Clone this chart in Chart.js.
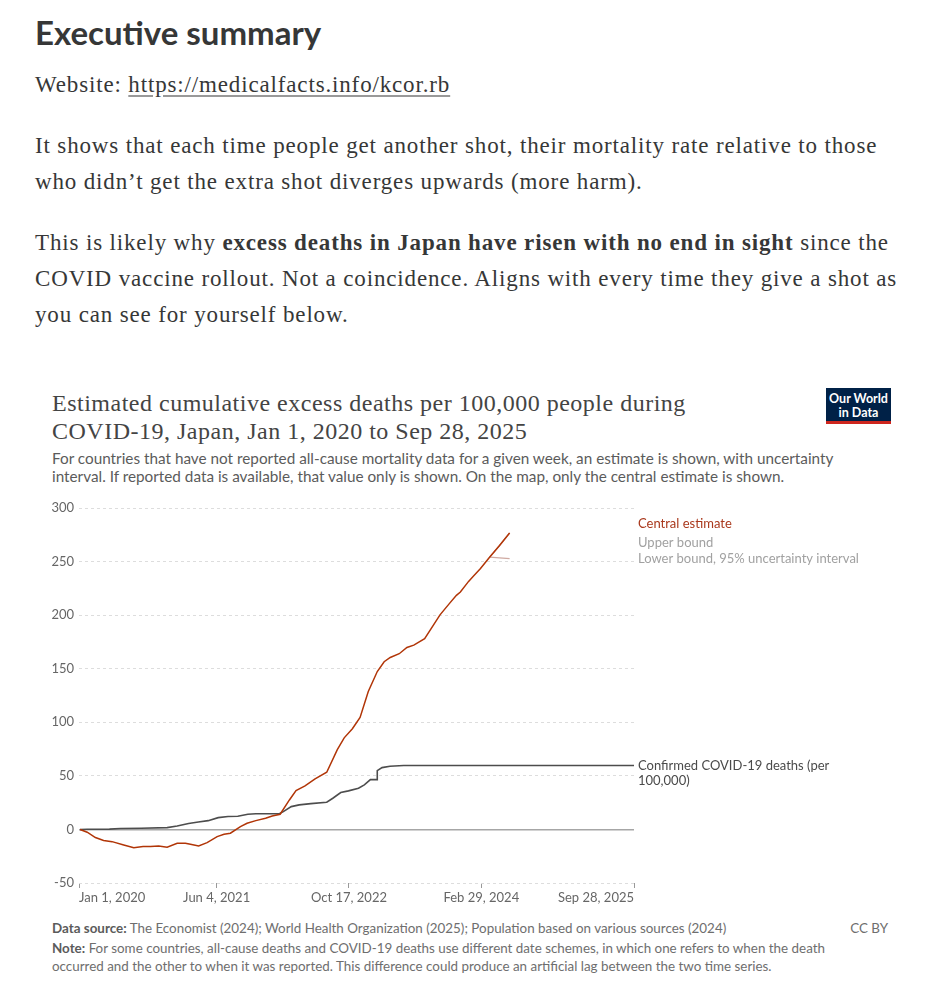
<!DOCTYPE html>
<html>
<head>
<meta charset="utf-8">
<script src="https://cdn.jsdelivr.net/npm/chart.js@4.4.1/dist/chart.umd.min.js"></script>
<style>
  html, body { margin: 0; padding: 0; background: #fff; }
  body { width: 928px; height: 1004px; position: relative; overflow: hidden; color: #363737; }
  .abs { position: absolute; }
  h1 { margin: 0; font-family: Lato, sans-serif; font-weight: 700; font-size: 33px; line-height: 40px; left: 35px; top: 12px; color: #363737; }
  .body { font-family: "Liberation Serif", serif; font-size: 23px; letter-spacing: 0.85px; line-height: 36px; left: 35px; width: 876px; margin: 0; }
  .body a { color: #363737; text-decoration: underline; text-decoration-color: #999; text-underline-offset: 3px; }
  .ctitle { font-family: "Liberation Serif", serif; font-size: 24px; letter-spacing: 0.5px; line-height: 28px; left: 52px; top: 389px; color: #444; width: 665px; }
  .csub { font-family: Lato, sans-serif; font-size: 15.3px; line-height: 18px; left: 52px; top: 449px; color: #5b5b5b; width: 800px; }
  .logo { left: 826px; top: 388px; width: 65px; background: #002147; border-bottom: 3px solid #ce261e; color: #fff; font-family: Lato, sans-serif; font-weight: 700; font-size: 12.5px; line-height: 14px; text-align: center; padding-top: 4px; height: 29px; }
  .foot { font-family: Lato, sans-serif; font-size: 13.4px; line-height: 18px; left: 52px; color: #6e6e6e; width: 800px; }
  .foot b { color: #5b5b5b; }
  #chartBox { left: 30px; top: 495px; }
</style>
</head>
<body>
<h1 class="abs">Executive summary</h1>
<p class="abs body" style="top:67px">Website: <a href="#">https://medicalfacts.info/kcor.rb</a></p>
<p class="abs body" style="top:128px">It shows that each time people get another shot, their mortality rate relative to those who didn’t get the extra shot diverges upwards (more harm).</p>
<p class="abs body" style="top:225px">This is likely why <b>excess deaths in Japan have risen with no end in sight</b> since the COVID vaccine rollout. Not a coincidence. Aligns with every time they give a shot as you can see for yourself below.</p>

<div class="abs ctitle">Estimated cumulative excess deaths per 100,000 people during COVID-19, Japan, Jan 1, 2020 to Sep 28, 2025</div>
<div class="abs csub">For countries that have not reported all-cause mortality data for a given week, an estimate is shown, with uncertainty interval. If reported data is available, that value only is shown. On the map, only the central estimate is shown.</div>
<div class="abs logo">Our World<br>in Data</div>

<div class="abs" id="chartBox"><canvas id="canvasPanel" width="870" height="417"></canvas></div>

<div class="abs foot" style="top:919px"><b>Data source:</b> The Economist (2024); World Health Organization (2025); Population based on various sources (2024)</div>
<div class="abs foot" style="top:919px; left:auto; right:40px; width:auto;">CC BY</div>
<div class="abs foot" style="top:939px"><b>Note:</b> For some countries, all-cause deaths and COVID-19 deaths use different date schemes, in which one refers to when the death occurred and the other to when it was reported. This difference could produce an artificial lag between the two time series.</div>

<script>
// x values are days since Jan 1, 2020
var tickDays = [0, 520, 1020, 1520, 2097];
var tickLabels = ['Jan 1, 2020', 'Jun 4, 2021', 'Oct 17, 2022', 'Feb 29, 2024', 'Sep 28, 2025'];

var centralDays = [4, 31, 62, 93, 125, 169, 207, 242, 270, 301, 333, 371, 402, 421, 452, 484, 522, 548, 572, 610, 635, 668, 705, 730, 760, 795, 820, 854, 892, 936, 976, 1002, 1033, 1062, 1093, 1127, 1153, 1176, 1210, 1239, 1265, 1306, 1364, 1400, 1426, 1441, 1472, 1489, 1517, 1552, 1589, 1627];
var centralValues = [0, -2.6, -7.6, -10.4, -11.4, -14.5, -17, -16, -16, -15.4, -16.6, -12.9, -12.9, -13.8, -15.4, -12.3, -6.7, -4.5, -3.5, 2.6, 5.8, 8.2, 10.4, 12.6, 14.2, 27.5, 36.3, 40.6, 47.2, 53.4, 74.5, 85.5, 94, 104.6, 128.7, 147.4, 156.5, 160.5, 164, 169.8, 172, 178, 200.3, 211, 218.5, 221.6, 231.5, 236, 243.5, 254.2, 265, 276.7];

var upperDays = [1552, 1589, 1627];
var upperValues = [254.2, 265, 276.7];
var lowerDays = [1552, 1589, 1627];
var lowerValues = [254.2, 253.5, 252.7];

var confirmedDays = [4, 31, 115, 156, 235, 333, 371, 414, 451, 488, 526, 563, 600, 638, 668, 757, 772, 802, 832, 876, 936, 959, 989, 1018, 1056, 1078, 1101, 1126, 1127, 1145, 1175, 1227, 2097];
var confirmedValues = [0, 0.1, 0.3, 0.9, 1.1, 1.7, 3.2, 5.5, 7, 8.2, 11, 12, 12.3, 14.2, 14.6, 14.6, 16.6, 21.3, 22.9, 24.1, 25.4, 29.1, 34.4, 36, 38.5, 41.6, 46.5, 46.5, 54.9, 57.7, 59, 59.6, 59.6];

function pairs(xs, ys) {
  return xs.map(function(x, i) { return {x: x, y: ys[i]}; });
}

var lineLabels = {
  id: 'lineLabels',
  afterDraw: function(chart) {
    var ctx = chart.ctx;
    var x = chart.chartArea.right + 4;
    var top = chart.chartArea.top;
    ctx.save();
    ctx.font = '13px Lato';
    ctx.textBaseline = 'middle';
    ctx.textAlign = 'left';
    ctx.fillStyle = '#a9381c';
    ctx.fillText('Central estimate', x, top + 16);
    ctx.fillStyle = '#a1a1a1';
    ctx.fillText('Upper bound', x, top + 35);
    ctx.fillText('Lower bound, 95% uncertainty interval', x, top + 51);
    ctx.fillStyle = '#4a4a4a';
    ctx.fillText('Confirmed COVID-19 deaths (per', x, top + 258);
    ctx.fillText('100,000)', x, top + 273);
    ctx.restore();
  }
};

var config = {
  type: 'line',
  data: {
    datasets: [{
      label: 'Central estimate',
      data: pairs(centralDays, centralValues),
      borderColor: '#b13507',
      borderWidth: 1.5
    },
    {
      label: 'Upper bound',
      data: pairs(upperDays, upperValues),
      borderColor: '#cfaaa2',
      borderWidth: 1.2
    },
    {
      label: 'Lower bound, 95% uncertainty interval',
      data: pairs(lowerDays, lowerValues),
      borderColor: '#cfaaa2',
      borderWidth: 1.2
    },
    {
      label: 'Confirmed COVID-19 deaths (per 100,000)',
      data: pairs(confirmedDays, confirmedValues),
      borderColor: '#4d4d4d',
      borderWidth: 1.6
    }]
  },
  options: {
    responsive: false,
    animation: false,
    elements: { point: { radius: 0 }, line: { tension: 0 } },
    layout: { padding: { top: 13, right: 266, left: 0, bottom: 0 } },
    plugins: { legend: { display: false }, tooltip: { enabled: false } },
    scales: {
      x: {
        type: 'linear',
        min: 0,
        max: 2097,
        afterBuildTicks: function(scale) {
          scale.ticks = tickDays.map(function(d) { return {value: d}; });
        },
        afterFit: function(scale) { scale.height = 29; },
        ticks: {
          align: 'inner',
          maxRotation: 0,
          autoSkip: false,
          padding: 2,
          color: '#666',
          font: { family: 'Lato', size: 13 },
          callback: function(v, i) { return tickLabels[i]; }
        },
        grid: { drawOnChartArea: false, drawTicks: true, tickLength: 5, tickColor: '#999', tickWidth: 1 },
        border: { display: false }
      },
      y: {
        min: -50,
        max: 300,
        afterFit: function(scale) { scale.width = 49; },
        ticks: {
          stepSize: 50,
          padding: 5,
          color: '#666',
          font: { family: 'Lato', size: 13 }
        },
        grid: {
          drawTicks: false,
          color: function(c) { return c.tick && c.tick.value === 0 ? '#a6a6a6' : '#dddddd'; },
          lineWidth: function(c) { return c.tick && c.tick.value === 0 ? 1.6 : 1; }
        },
        border: {
          display: false,
          dash: function(c) { return c.tick && c.tick.value === 0 ? [] : [3, 3]; }
        }
      }
    }
  },
  plugins: [lineLabels]
};

window.onload = function() {
  var ctx = document.getElementById('canvasPanel').getContext('2d');
  window.myLine = new Chart(ctx, config);
};
</script>
</body>
</html>
